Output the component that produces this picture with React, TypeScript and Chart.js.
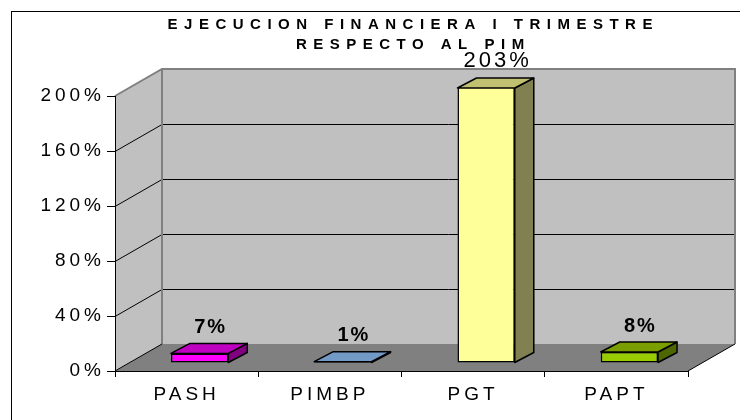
import React, { useEffect, useRef } from 'react';
import { Chart, registerables } from 'chart.js';

Chart.register(...registerables);

const categories = ['PASH', 'PIMBP', 'PGT', 'PAPT'];
const values = [7, 1, 203, 8];
const valueLabels = ['7%', '1%', '203%', '8%'];
const frontColors = ['#ff00ff', '#8fb3dc', '#ffff99', '#99cc00'];
const topColors = ['#c000c0', '#7399c6', '#c0c070', '#7a9e00'];
const sideColors = ['#800080', '#4d6b8f', '#808050', '#4d6600'];
const yMin = 0;
const yMax = 200;
const yStep = 40;
const titleLines = ['EJECUCION FINANCIERA I TRIMESTRE', 'RESPECTO AL PIM'];

const FONT = '"Liberation Sans", Arial, sans-serif';
const DEPTH_X = 47;
const DEPTH_Y = -27;
const BAR_SHIFT_X = 13;
const BAR_SHIFT_Y = -8;
const BAR_DEPTH_X = 19;
const BAR_DEPTH_Y = -10;

function poly(ctx: CanvasRenderingContext2D, pts: number[][]) {
  ctx.beginPath();
  ctx.moveTo(pts[0][0], pts[0][1]);
  for (let i = 1; i < pts.length; i++) ctx.lineTo(pts[i][0], pts[i][1]);
  ctx.closePath();
}

const threeD = {
  id: 'threeD',
  beforeDraw(chart: any) {
    const ctx: CanvasRenderingContext2D = chart.ctx;
    const { left, right, top, bottom } = chart.chartArea;
    const yScale = chart.scales.y;
    ctx.save();
    ctx.strokeStyle = '#000';
    ctx.lineWidth = 1;
    ctx.strokeRect(11.5, 11.5, 900, 900);
    const side = [[left, bottom], [left, top], [left + DEPTH_X, top + DEPTH_Y], [left + DEPTH_X, bottom + DEPTH_Y]];
    poly(ctx, side);
    ctx.fillStyle = '#c0c0c0';
    ctx.fill();
    const back = [[left + DEPTH_X, top + DEPTH_Y], [right + DEPTH_X, top + DEPTH_Y], [right + DEPTH_X, bottom + DEPTH_Y], [left + DEPTH_X, bottom + DEPTH_Y]];
    poly(ctx, back);
    ctx.fill();
    const floor = [[left, bottom], [left + DEPTH_X, bottom + DEPTH_Y], [right + DEPTH_X, bottom + DEPTH_Y], [right, bottom]];
    poly(ctx, floor);
    ctx.fillStyle = '#808080';
    ctx.fill();
    ctx.strokeStyle = '#000';
    ctx.lineWidth = 1;
    for (let v = yMin + yStep; v < yMax; v += yStep) {
      const y = Math.round(yScale.getPixelForValue(v)) + 0.5;
      ctx.beginPath();
      ctx.moveTo(left, y);
      ctx.lineTo(left + DEPTH_X, y + DEPTH_Y);
      ctx.lineTo(right + DEPTH_X, y + DEPTH_Y);
      ctx.stroke();
    }
    ctx.strokeStyle = '#808080';
    ctx.lineWidth = 2;
    ctx.beginPath();
    ctx.moveTo(left, top);
    ctx.lineTo(left + DEPTH_X, top + DEPTH_Y);
    ctx.lineTo(right + DEPTH_X, top + DEPTH_Y);
    ctx.lineTo(right + DEPTH_X, bottom + DEPTH_Y);
    ctx.moveTo(left + DEPTH_X, top + DEPTH_Y);
    ctx.lineTo(left + DEPTH_X, bottom + DEPTH_Y);
    ctx.stroke();
    ctx.strokeStyle = '#000';
    ctx.lineWidth = 1;
    ctx.beginPath();
    ctx.moveTo(left, bottom);
    ctx.lineTo(left + DEPTH_X, bottom + DEPTH_Y);
    ctx.moveTo(right, bottom);
    ctx.lineTo(right + DEPTH_X, bottom + DEPTH_Y);
    ctx.stroke();
    ctx.restore();
    ctx.letterSpacing = '4px';
  },
  beforeDatasetsDraw(chart: any) {
    chart.ctx.save();
    chart.ctx.translate(BAR_SHIFT_X, BAR_SHIFT_Y);
  },
  afterDatasetsDraw(chart: any) {
    const ctx: CanvasRenderingContext2D = chart.ctx;
    ctx.restore();
    const { top } = chart.chartArea;
    const meta = chart.getDatasetMeta(0);
    ctx.save();
    ctx.lineWidth = 1.5;
    ctx.strokeStyle = '#000';
    ctx.lineJoin = 'round';
    meta.data.forEach((bar: any, i: number) => {
      const p = bar.getProps(['x', 'y', 'base', 'width'], true);
      const L = p.x - p.width / 2 + BAR_SHIFT_X;
      const R = p.x + p.width / 2 + BAR_SHIFT_X;
      const T = Math.max(p.y, top) + BAR_SHIFT_Y;
      const B = p.base + BAR_SHIFT_Y;
      poly(ctx, [[R, T], [R + BAR_DEPTH_X, T + BAR_DEPTH_Y], [R + BAR_DEPTH_X, B + BAR_DEPTH_Y], [R, B]]);
      ctx.fillStyle = sideColors[i];
      ctx.fill();
      ctx.stroke();
      poly(ctx, [[L, T], [R, T], [R + BAR_DEPTH_X, T + BAR_DEPTH_Y], [L + BAR_DEPTH_X, T + BAR_DEPTH_Y]]);
      ctx.fillStyle = topColors[i];
      ctx.fill();
      ctx.stroke();
      const clipped = values[i] > yMax;
      const fs = clipped ? 22 : 20;
      const sp = clipped ? 3 : 2;
      ctx.font = `${clipped ? 'normal' : 'bold'} ${fs}px ${FONT}`;
      ctx.letterSpacing = `${sp}px`;
      ctx.fillStyle = '#000';
      ctx.textAlign = 'center';
      ctx.textBaseline = 'bottom';
      ctx.fillText(valueLabels[i], (L + R) / 2 + 10 + sp / 2, T + BAR_DEPTH_Y - 6);
    });
    ctx.restore();
  },
  afterDraw(chart: any) {
    const ctx: CanvasRenderingContext2D = chart.ctx;
    ctx.save();
    ctx.font = `bold 15px ${FONT}`;
    ctx.letterSpacing = '6.5px';
    ctx.fillStyle = '#000';
    ctx.textAlign = 'center';
    ctx.textBaseline = 'middle';
    ctx.fillText(titleLines[0], 410 + 3.25, 25);
    ctx.fillText(titleLines[1], 410 + 3.25, 45);
    ctx.restore();
  },
};

export default function App() {
  const ref = useRef<HTMLCanvasElement | null>(null);
  useEffect(() => {
    if (!ref.current) return;
    const chart = new Chart(ref.current, {
      type: 'bar',
      data: {
        labels: categories,
        datasets: [
          {
            data: values,
            backgroundColor: frontColors,
            borderColor: '#000',
            borderWidth: 1.5,
            borderSkipped: false,
            categoryPercentage: 1,
            barPercentage: 0.4,
          },
        ],
      },
      options: {
        responsive: false,
        animation: false,
        layout: { padding: { top: 96, right: 52, left: 0, bottom: 0 } },
        plugins: {
          legend: { display: false },
          title: { display: false },
          tooltip: { enabled: false },
        },
        scales: {
          x: {
            afterFit: (s: any) => { s.height = 49; },
            grid: { drawOnChartArea: false, drawTicks: true, tickLength: 6, color: '#000', offset: true },
            border: { display: true, color: '#000', width: 1 },
            ticks: { color: '#000', padding: 6, font: { family: FONT, size: 19 } },
          },
          y: {
            min: yMin,
            max: yMax,
            afterFit: (s: any) => { s.width = 115; },
            grid: { drawOnChartArea: false, drawTicks: true, tickLength: 8, color: '#000' },
            border: { display: true, color: '#000', width: 1 },
            ticks: {
              stepSize: yStep,
              color: '#000',
              padding: 2,
              font: { family: FONT, size: 19 },
              callback: (v: any) => `${v}%`,
            },
          },
        },
      },
      plugins: [threeD],
    });
    return () => chart.destroy();
  }, []);
  return (
    <div style={{ position: 'absolute', left: 0, top: 0, width: 740, height: 420, background: '#fff' }}>
      <canvas ref={ref} width={740} height={420} style={{ display: 'block' }} />
    </div>
  );
}
